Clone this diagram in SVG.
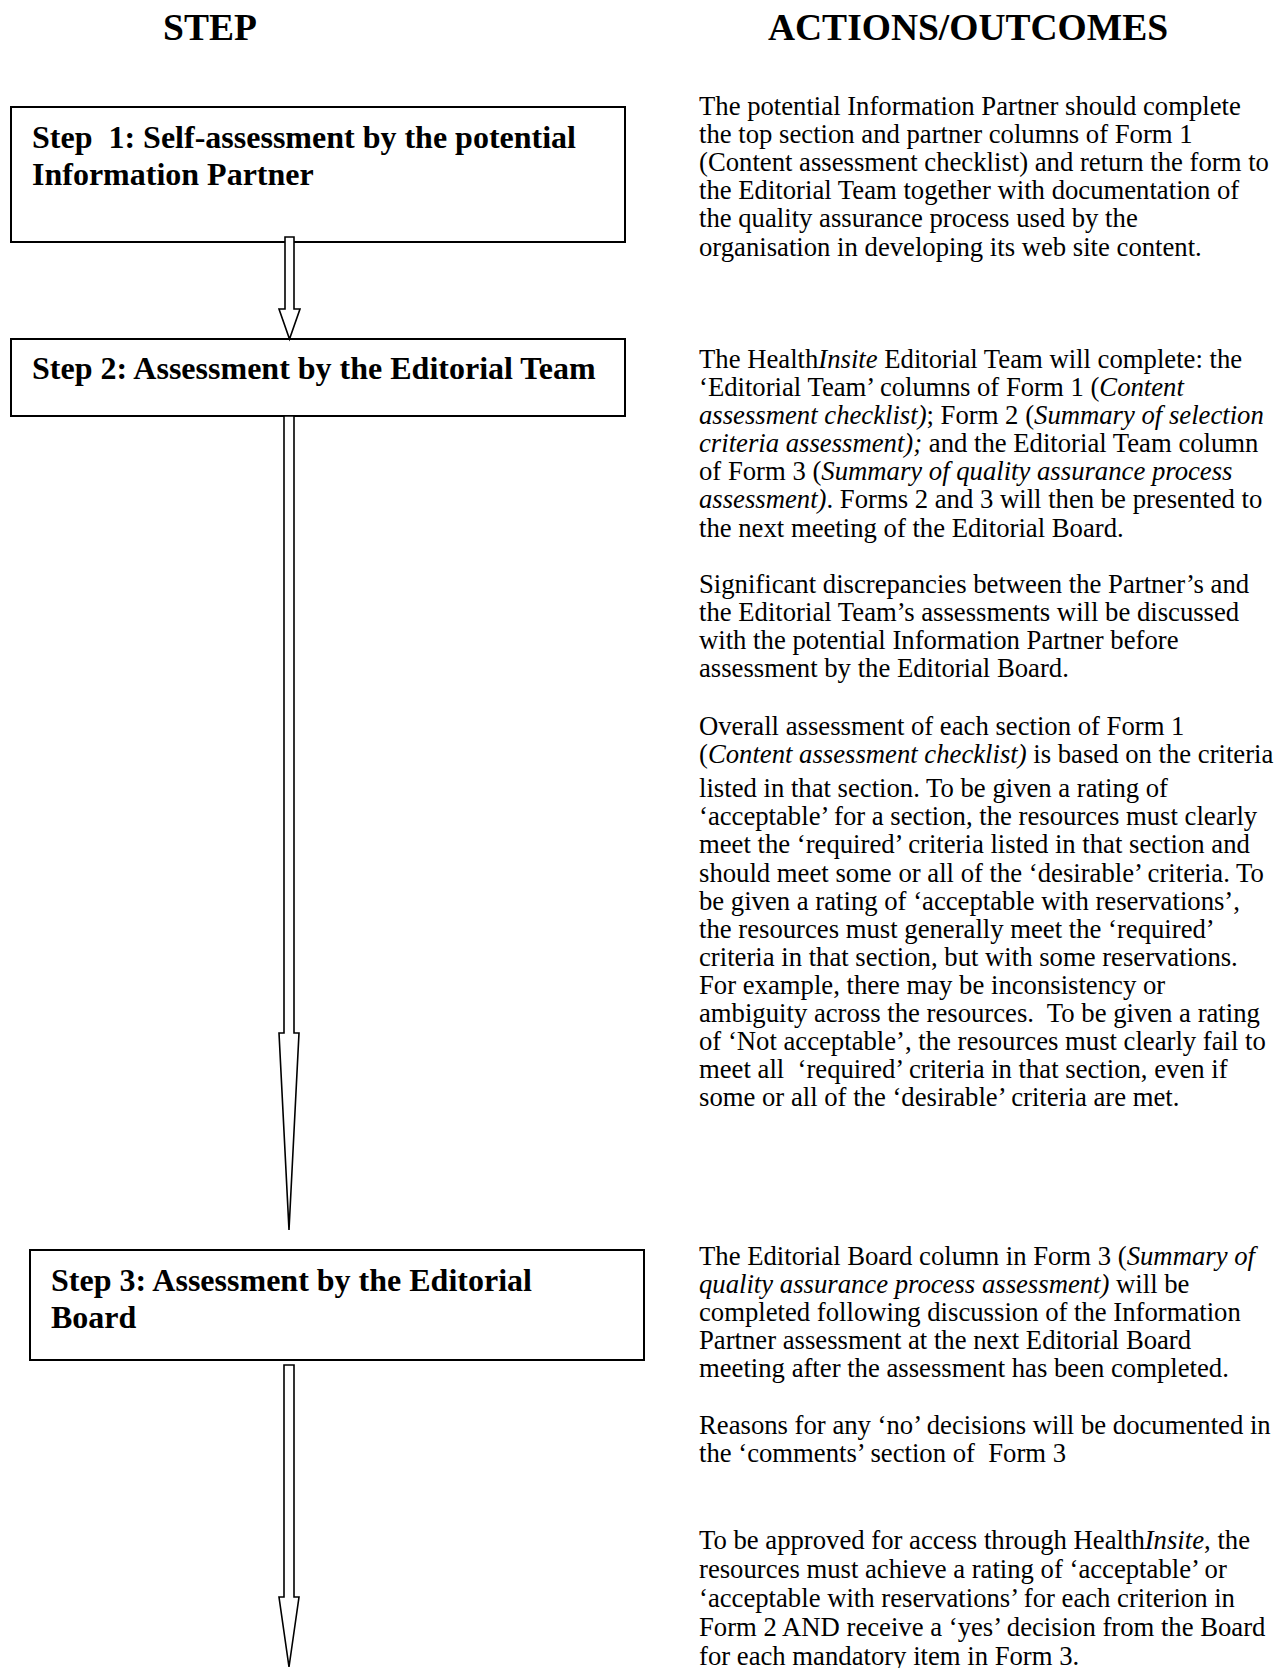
<svg xmlns="http://www.w3.org/2000/svg" width="1280" height="1668" viewBox="0 0 1280 1668">
<style>
.h{font-family:"Liberation Serif","Times New Roman",serif;font-weight:bold;font-size:37.5px;text-anchor:middle;fill:#000}
.s{font-family:"Liberation Serif","Times New Roman",serif;font-weight:bold;font-size:32px;fill:#000;white-space:pre}
.t{font-family:"Liberation Serif","Times New Roman",serif;font-size:26.7px;fill:#000;white-space:pre}
.i{font-style:italic}
.box{fill:#fff;stroke:#000;stroke-width:2}
.arr{fill:#fff;stroke:#000;stroke-width:1.6;stroke-linejoin:miter}
</style>
<rect width="1280" height="1668" fill="#fff"/>
<g id="headings">
<text class="h" x="210" y="40">STEP</text>
<text class="h" x="968" y="40">ACTIONS/OUTCOMES</text>
</g>
<g id="step1">
<rect class="box" x="11" y="107" width="614" height="135"/>
<text class="s" x="32" y="148">Step  1: Self-assessment by the potential</text>
<text class="s" x="32" y="185">Information Partner</text>
</g>
<g id="step2">
<rect class="box" x="11" y="339" width="614" height="77"/>
<text class="s" x="32" y="379">Step 2: Assessment by the Editorial Team</text>
</g>
<g id="step3">
<rect class="box" x="30" y="1250" width="614" height="110"/>
<text class="s" x="51" y="1291">Step 3: Assessment by the Editorial</text>
<text class="s" x="51" y="1328">Board</text>
</g>
<g id="connectors">
<polygon class="arr" points="285,237 294,237 294,309 300,309 289.5,339 279,309 285,309"/>
<polygon class="arr" points="284,416 294,416 294,1033 299,1033 289,1230 279,1033 284,1033"/>
<polygon class="arr" points="284,1365 294,1365 294,1597 299,1597 289,1667 279,1597 284,1597"/>
</g>
<g id="outcome1">
<text class="t" x="699" y="115">The potential Information Partner should complete</text>
<text class="t" x="699" y="143.1">the top section and partner columns of Form 1</text>
<text class="t" x="699" y="171.2">(Content assessment checklist) and return the form to</text>
<text class="t" x="699" y="199.3">the Editorial Team together with documentation of</text>
<text class="t" x="699" y="227.4">the quality assurance process used by the</text>
<text class="t" x="699" y="255.5">organisation in developing its web site content.</text>
</g>
<g id="outcome2">
<text class="t" x="699" y="367.9">The Health<tspan class="i">Insite</tspan> Editorial Team will complete: the</text>
<text class="t" x="699" y="396">‘Editorial Team’ columns of Form 1 (<tspan class="i">Content</tspan></text>
<text class="t" x="699" y="424.1"><tspan class="i">assessment checklist)</tspan>; Form 2 (<tspan class="i">Summary of selection</tspan></text>
<text class="t" x="699" y="452.2"><tspan class="i">criteria assessment);</tspan> and the Editorial Team column</text>
<text class="t" x="699" y="480.3">of Form 3 (<tspan class="i">Summary of quality assurance process</tspan></text>
<text class="t" x="699" y="508.4"><tspan class="i">assessment)</tspan>. Forms 2 and 3 will then be presented to</text>
<text class="t" x="699" y="536.5">the next meeting of the Editorial Board.</text>
</g>
<g id="outcome3">
<text class="t" x="699" y="592.7">Significant discrepancies between the Partner’s and</text>
<text class="t" x="699" y="620.8">the Editorial Team’s assessments will be discussed</text>
<text class="t" x="699" y="648.9">with the potential Information Partner before</text>
<text class="t" x="699" y="677">assessment by the Editorial Board.</text>
</g>
<g id="outcome4">
<text class="t" x="699" y="735">Overall assessment of each section of Form 1</text>
<text class="t" x="699" y="763.1">(<tspan class="i">Content assessment checklist)</tspan> is based on the criteria</text>
<text class="t" x="699" y="797.2">listed in that section. To be given a rating of</text>
<text class="t" x="699" y="825.3">‘acceptable’ for a section, the resources must clearly</text>
<text class="t" x="699" y="853.4">meet the ‘required’ criteria listed in that section and</text>
<text class="t" x="699" y="881.5">should meet some or all of the ‘desirable’ criteria. To</text>
<text class="t" x="699" y="909.6">be given a rating of ‘acceptable with reservations’,</text>
<text class="t" x="699" y="937.7">the resources must generally meet the ‘required’</text>
<text class="t" x="699" y="965.8">criteria in that section, but with some reservations.</text>
<text class="t" x="699" y="993.9">For example, there may be inconsistency or</text>
<text class="t" x="699" y="1022">ambiguity across the resources.  To be given a rating</text>
<text class="t" x="699" y="1050.1">of ‘Not acceptable’, the resources must clearly fail to</text>
<text class="t" x="699" y="1078.2">meet all  ‘required’ criteria in that section, even if</text>
<text class="t" x="699" y="1106.3">some or all of the ‘desirable’ criteria are met.</text>
</g>
<g id="outcome5">
<text class="t" x="699" y="1265">The Editorial Board column in Form 3 (<tspan class="i">Summary of</tspan></text>
<text class="t" x="699" y="1293.1"><tspan class="i">quality assurance process assessment)</tspan> will be</text>
<text class="t" x="699" y="1321.2">completed following discussion of the Information</text>
<text class="t" x="699" y="1349.3">Partner assessment at the next Editorial Board</text>
<text class="t" x="699" y="1377.4">meeting after the assessment has been completed.</text>
</g>
<g id="outcome6">
<text class="t" x="699" y="1433.6">Reasons for any ‘no’ decisions will be documented in</text>
<text class="t" x="699" y="1461.7">the ‘comments’ section of  Form 3</text>
</g>
<g id="outcome7">
<text class="t" x="699" y="1549">To be approved for access through Health<tspan class="i">Insite</tspan>, the</text>
<text class="t" x="699" y="1578">resources must achieve a rating of ‘acceptable’ or</text>
<text class="t" x="699" y="1607">‘acceptable with reservations’ for each criterion in</text>
<text class="t" x="699" y="1636">Form 2 AND receive a ‘yes’ decision from the Board</text>
<text class="t" x="699" y="1665">for each mandatory item in Form 3.</text>
</g>
</svg>
